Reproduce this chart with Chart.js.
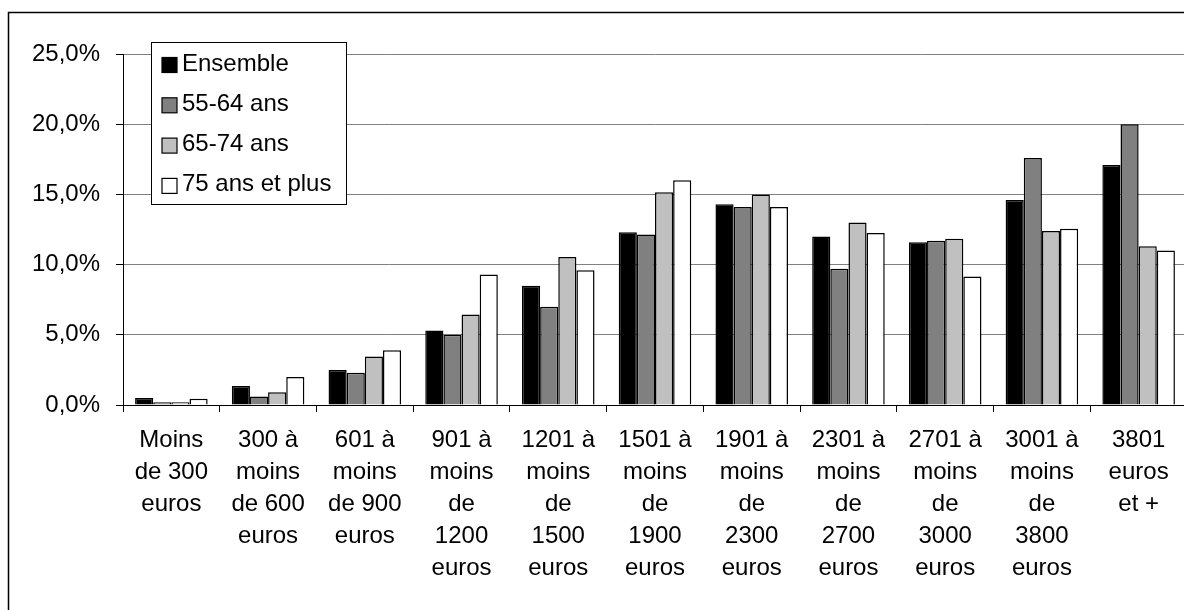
<!DOCTYPE html>
<html>
<head>
<meta charset="utf-8">
<script src="https://cdn.jsdelivr.net/npm/chart.js@4"></script>
<style>
  html, body { margin: 0; padding: 0; background: #fff; overflow: hidden; }
  #wrap { width: 1192px; height: 610px; }
</style>
</head>
<body>
<div id="wrap"><canvas id="myChart" width="1192" height="610"></canvas></div>
<script>
const categories = [
  ['Moins', 'de 300', 'euros'],
  ['300 à', 'moins', 'de 600', 'euros'],
  ['601 à', 'moins', 'de 900', 'euros'],
  ['901 à', 'moins', 'de', '1200', 'euros'],
  ['1201 à', 'moins', 'de', '1500', 'euros'],
  ['1501 à', 'moins', 'de', '1900', 'euros'],
  ['1901 à', 'moins', 'de', '2300', 'euros'],
  ['2301 à', 'moins', 'de', '2700', 'euros'],
  ['2701 à', 'moins', 'de', '3000', 'euros'],
  ['3001 à', 'moins', 'de', '3800', 'euros'],
  ['3801', 'euros', 'et +']
];

const seriesNames = ['Ensemble', '55-64 ans', '65-74 ans', '75 ans et plus'];
const ensemble = [0.5, 1.35, 2.5, 5.3, 8.5, 12.3, 14.3, 12.0, 11.6, 14.6, 17.1];
const ans55_64 = [0.2, 0.6, 2.3, 5.0, 7.0, 12.15, 14.1, 9.7, 11.7, 17.6, 20.0];
const ans65_74 = [0.2, 0.9, 3.45, 6.45, 10.55, 15.15, 15.0, 13.0, 11.85, 12.4, 11.3];
const ans75plus = [0.45, 2.0, 3.9, 9.3, 9.6, 16.0, 14.1, 12.25, 9.15, 12.55, 11.0];

const yTicks = [0, 5, 10, 15, 20, 25];
const colors = ['#000000', '#808080', '#c0c0c0', '#ffffff'];

const FONT = 'Liberation Sans, Arial, sans-serif';

// white background + outer frame
const frame = {
  id: 'frame',
  beforeDraw: (chart) => {
    const {ctx} = chart;
    ctx.save();
    ctx.fillStyle = 'white';
    ctx.fillRect(0, 0, chart.width, chart.height);
    ctx.strokeStyle = '#000';
    ctx.lineWidth = 1.5;
    ctx.strokeRect(8.5, 12.5, chart.width + 20, chart.height + 20);
    ctx.restore();
  }
};

// boxed legend inside the plot, like the original
const boxLegend = {
  id: 'boxLegend',
  afterDraw: (chart) => {
    const {ctx} = chart;
    const x0 = 151, y0 = 42, w = 195, h = 162;
    ctx.save();
    ctx.fillStyle = '#fff';
    ctx.fillRect(x0, y0, w, h);
    ctx.strokeStyle = '#000';
    ctx.lineWidth = 1;
    ctx.strokeRect(x0 + 0.5, y0 + 0.5, w, h);
    ctx.font = '24px ' + FONT;
    ctx.textBaseline = 'alphabetic';
    chart.data.datasets.forEach((ds, i) => {
      const cy = 65 + i * 40.3;
      ctx.fillStyle = ds.backgroundColor;
      ctx.fillRect(162, cy - 7.5, 15, 15);
      ctx.strokeStyle = '#000';
      ctx.lineWidth = 1.2;
      ctx.strokeRect(162, cy - 7.5, 15, 15);
      ctx.fillStyle = '#000';
      ctx.fillText(ds.label, 182, cy + 5.5);
    });
    ctx.restore();
  }
};

const seriesData = [ensemble, ans55_64, ans65_74, ans75plus];

const data = {
  labels: categories,
  datasets: seriesNames.map((name, i) => ({
    label: name,
    data: seriesData[i],
    backgroundColor: colors[i],
    borderColor: '#000',
    borderWidth: 1.5,
    categoryPercentage: 0.75,
    barPercentage: 1.0
  }))
};

const config = {
  type: 'bar',
  data: data,
  options: {
    responsive: false,
    animation: false,
    layout: {
      padding: {left: 0, right: 5, top: 54, bottom: 0}
    },
    plugins: {
      legend: {display: false},
      title: {display: false},
      tooltip: {enabled: false}
    },
    scales: {
      x: {
        grid: {
          drawOnChartArea: false,
          tickLength: 7,
          color: '#000'
        },
        border: {color: '#000', width: 1},
        ticks: {
          color: '#000',
          padding: 12,
          maxRotation: 0,
          autoSkip: false,
          font: {family: FONT, size: 24, lineHeight: 1.333}
        },
        afterFit: (s) => { s.height = 205; }
      },
      y: {
        min: 0,
        max: 25,
        afterBuildTicks: (s) => { s.ticks = yTicks.map(v => ({value: v})); },
        grid: {
          color: '#808080',
          tickColor: '#000',
          tickLength: 7
        },
        border: {color: '#000', width: 1},
        ticks: {
          color: '#000',
          padding: 16,
          font: {family: FONT, size: 24},
          callback: (v) => v.toFixed(1).replace('.', ',') + '%'
        },
        afterFit: (s) => { s.width = 123; }
      }
    }
  },
  plugins: [frame, boxLegend]
};

const myChart = new Chart(document.getElementById('myChart'), config);
</script>
</body>
</html>
